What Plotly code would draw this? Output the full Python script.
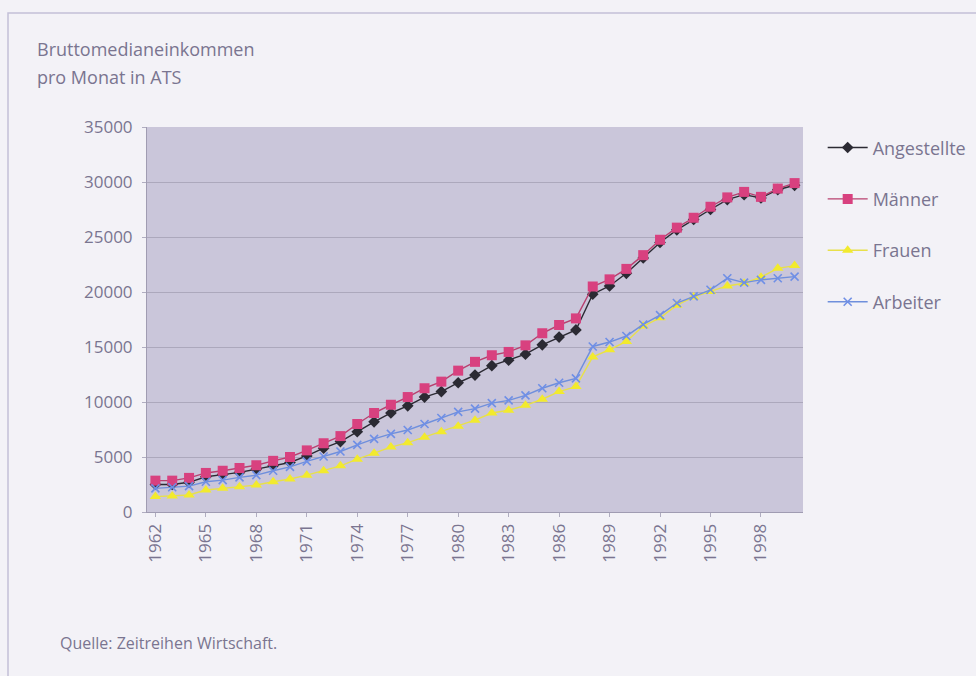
import plotly.graph_objects as go

years = [str(y) for y in range(1962, 2001)]

angestellte = [2500, 2500, 2700, 3200, 3400, 3600, 3900, 4200, 4500, 5100,
               5800, 6400, 7300, 8200, 9000, 9650, 10450, 10950, 11750, 12450,
               13300, 13800, 14350, 15200, 15900, 16550, 19800, 20550, 21700, 23100,
               24500, 25650, 26600, 27500, 28400, 28850, 28550, 29300, 29700]
maenner = [2850, 2850, 3100, 3550, 3750, 4000, 4250, 4650, 5000, 5600,
           6250, 6900, 8000, 9000, 9750, 10450, 11250, 11850, 12850, 13650,
           14250, 14550, 15150, 16250, 17000, 17600, 20500, 21150, 22100, 23350,
           24750, 25850, 26750, 27750, 28600, 29100, 28650, 29400, 29900]
frauen = [1400, 1450, 1550, 2000, 2150, 2300, 2450, 2750, 3000, 3350,
          3750, 4200, 4800, 5350, 5900, 6300, 6800, 7300, 7800, 8350,
          9000, 9250, 9700, 10250, 10950, 11400, 14100, 14750, 15500, 16900,
          17650, 18800, 19550, 20050, 20550, 20800, 21350, 22150, 22400]
arbeiter = [2150, 2250, 2350, 2750, 2900, 3150, 3350, 3750, 4100, 4600,
            5050, 5500, 6100, 6650, 7100, 7450, 8000, 8550, 9100, 9400,
            9900, 10150, 10600, 11250, 11750, 12150, 15050, 15450, 16000, 17050,
            17900, 19000, 19600, 20200, 21250, 20850, 21100, 21250, 21400]

tick_years = [str(y) for y in range(1962, 2001, 3)]

TXT = "#7a7590"
FONT = "Open Sans"

fig = go.Figure()
series = [
    ("Angestellte", angestellte, "#2b2a33", "#2b2a33", "diamond", 9),
    ("Männer", maenner, "#b8406f", "#d8417f", "square", 10),
    ("Frauen", frauen, "#e8e04a", "#f2ea2e", "triangle-up", 10),
    ("Arbeiter", arbeiter, "#6f8fdc", "#6f8fe6", "x-thin", 8),
]
for name, vals, lc, mc, sym, sz in series:
    marker = dict(symbol=sym, size=sz, color=mc)
    if sym == "x-thin":
        marker["line"] = dict(color=mc, width=1.6)
    fig.add_trace(go.Scatter(
        x=years, y=vals, name=name, mode="lines+markers",
        line=dict(color=lc, width=1.4), marker=marker, legendgroup=name,
    ))

fig.update_layout(
    width=976, height=676,
    margin=dict(l=147, r=173, t=127, b=164, autoexpand=False),
    paper_bgcolor="#f3f2f7",
    plot_bgcolor="#cac6da",
    font=dict(family=FONT, size=17, color=TXT),
    showlegend=True,
    legend=dict(x=1.03, y=0.994, xanchor="left", yanchor="top",
                bgcolor="rgba(0,0,0,0)", font=dict(size=18, color=TXT),
                tracegroupgap=25, itemwidth=40),
    xaxis=dict(type="category", tickmode="array", tickvals=tick_years,
               ticktext=tick_years, tickangle=-90, showgrid=False,
               ticks="outside", ticklen=4, tickcolor="#b0adc0",
               showline=True, linecolor="#a09cb2", linewidth=1,
               tickfont=dict(size=17, color=TXT), range=[-0.5, 38.5]),
    yaxis=dict(range=[0, 35000], tickvals=[0, 5000, 10000, 15000, 20000, 25000, 30000, 35000],
               tickformat="d", showgrid=True, gridcolor="#aca8bc", gridwidth=1,
               zeroline=False, showline=True, linecolor="#a09cb2", linewidth=1,
               ticks="outside", ticklen=4, tickcolor="#b0adc0", ticklabelstandoff=6,
               tickfont=dict(size=17, color=TXT)),
    shapes=[dict(type="rect", xref="paper", yref="paper",
                 x0=(8 - 147) / 656, x1=(990 - 147) / 656,
                 y0=(512 - 690) / 385, y1=(512 - 13) / 385,
                 line=dict(color="#c3c0d8", width=1.5), fillcolor="rgba(0,0,0,0)",
                 layer="below")],
    annotations=[
        dict(text="Bruttomedianeinkommen", xref="paper", yref="paper",
             x=(35 - 147) / 656, y=(512 - 49) / 385, xanchor="left", yanchor="middle",
             showarrow=False, align="left", font=dict(size=18, color=TXT)),
        dict(text="pro Monat in ATS", xref="paper", yref="paper",
             x=(35 - 147) / 656, y=(512 - 77) / 385, xanchor="left", yanchor="middle",
             showarrow=False, align="left", font=dict(size=18, color=TXT)),
        dict(text="Quelle: Zeitreihen Wirtschaft.", xref="paper", yref="paper",
             x=(58 - 147) / 656, y=(512 - 643) / 385, xanchor="left", yanchor="middle",
             showarrow=False, font=dict(size=16, color=TXT)),
    ],
)

fig.write_html("out.html", config={"displayModeBar": False},
               post_script="document.body.style.margin='0';")
